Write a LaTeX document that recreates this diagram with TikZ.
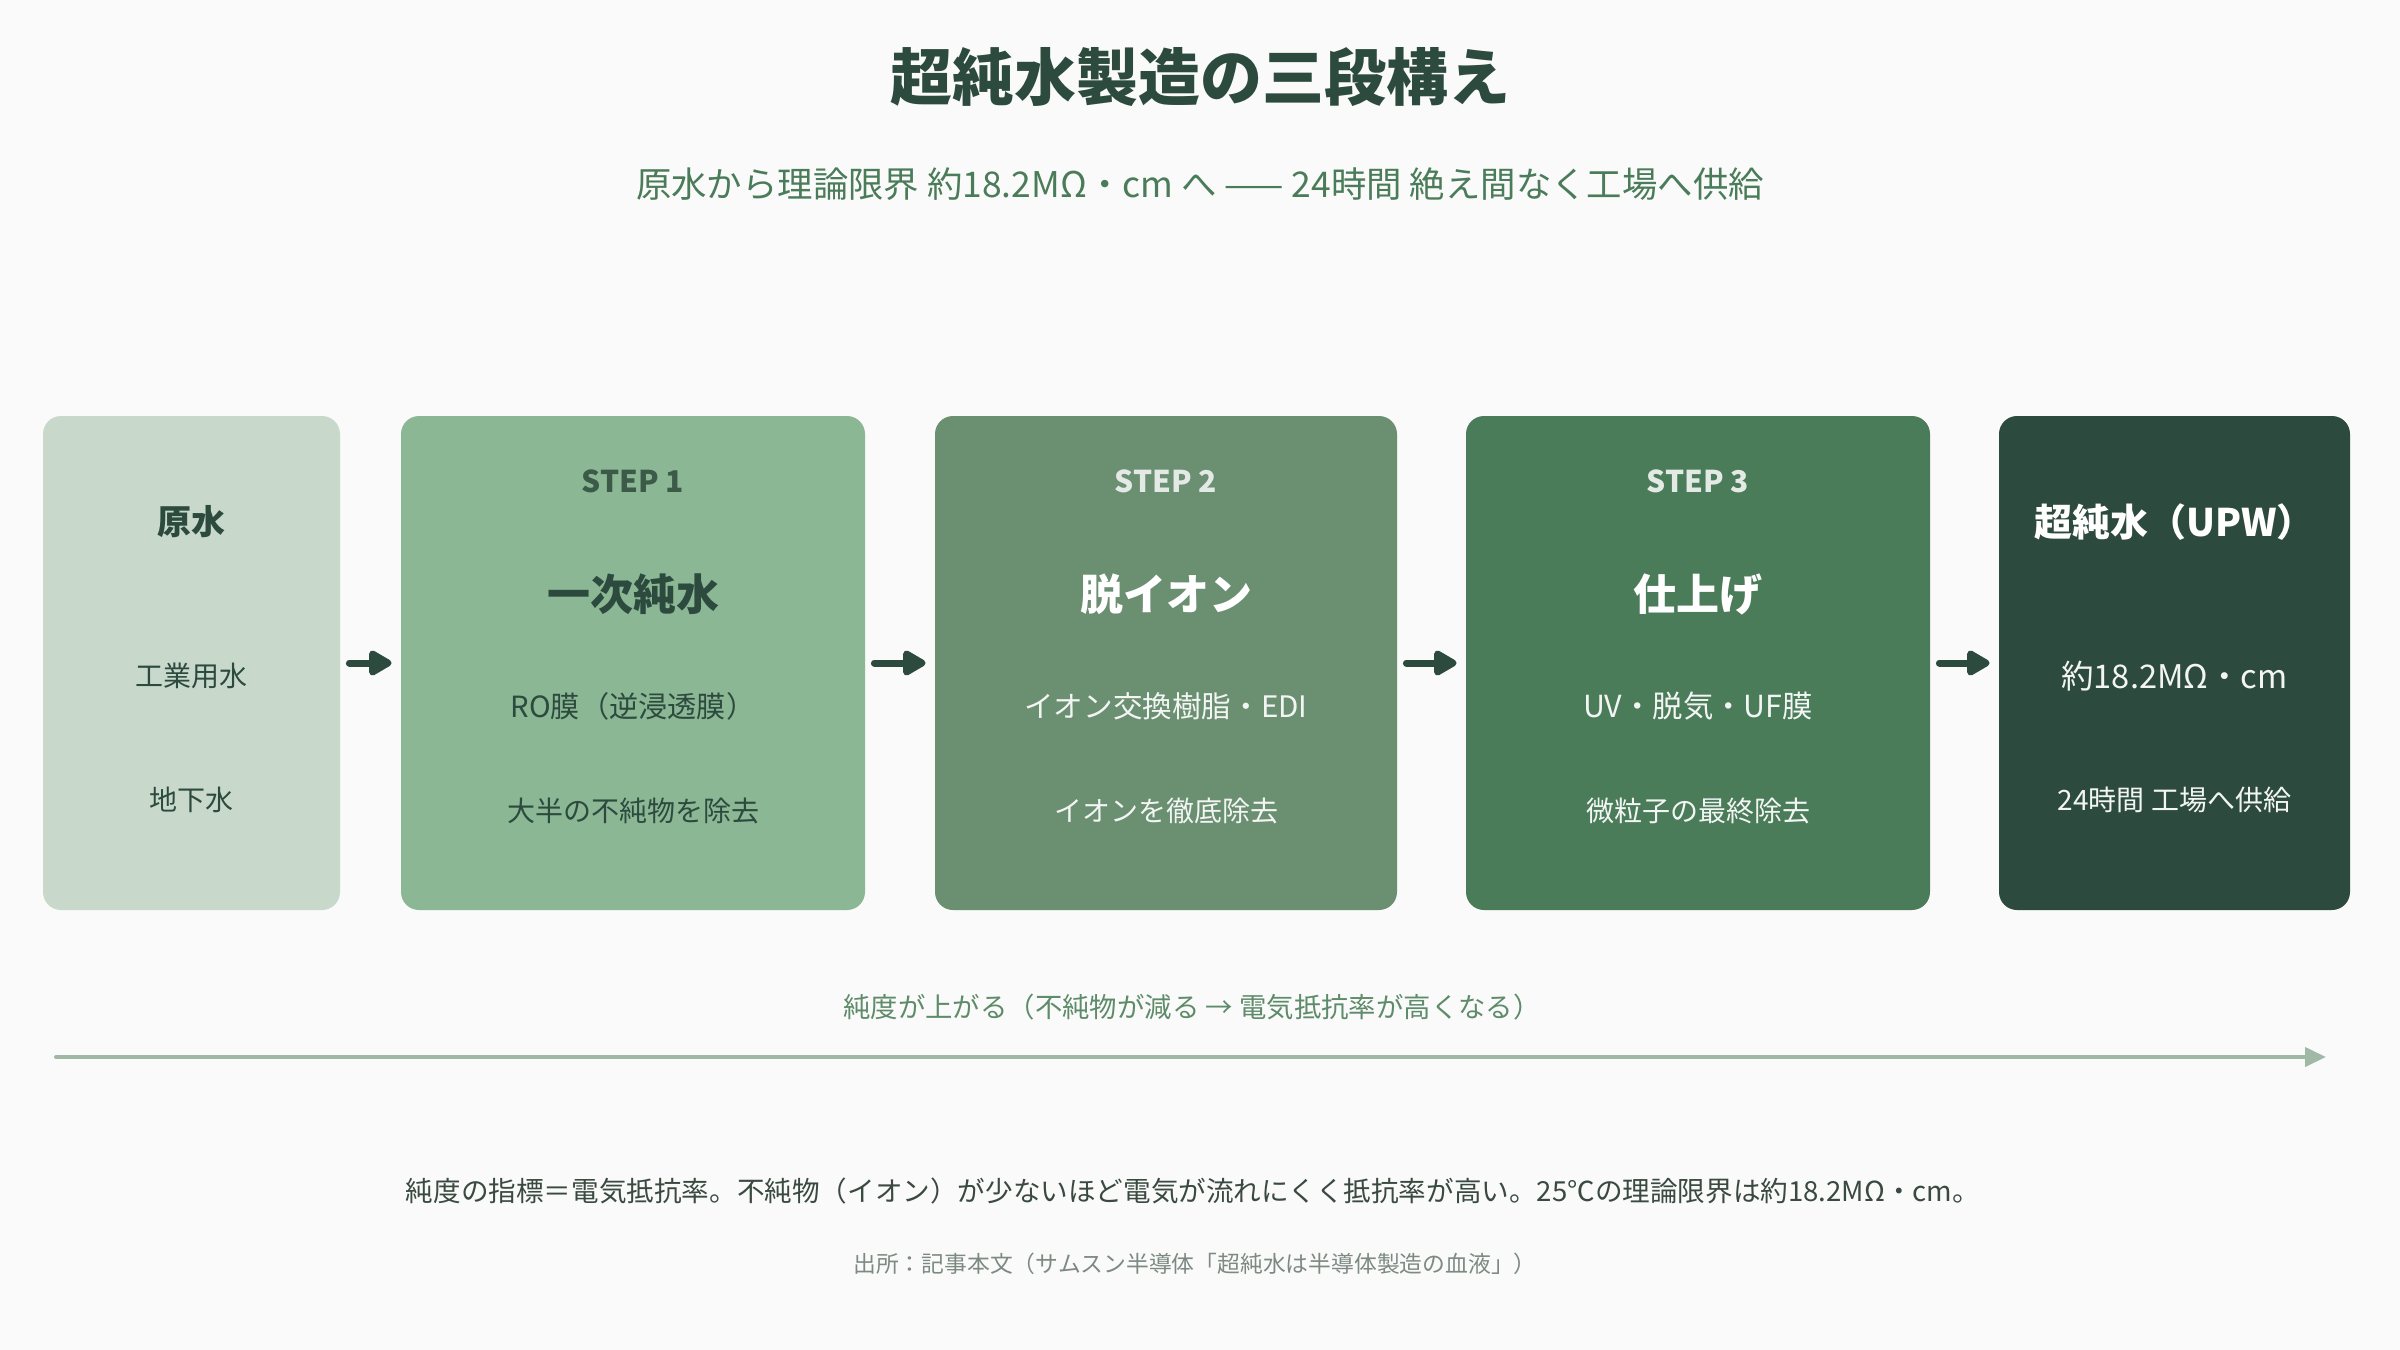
\documentclass[tikz,border=0pt]{standalone}
\usepackage{fontspec}
\setmainfont{Noto Sans CJK JP}
\usetikzlibrary{arrows.meta}
\definecolor{bgc}{HTML}{FAFAFA}
\definecolor{titlec}{HTML}{2D4A3E}
\definecolor{subc}{HTML}{4A7C59}
\definecolor{cA}{HTML}{C8D9CC}
\definecolor{cB}{HTML}{8BB795}
\definecolor{cC}{HTML}{6B8F71}
\definecolor{cD}{HTML}{4A7C59}
\definecolor{cE}{HTML}{2D4A3E}
\definecolor{stepdark}{HTML}{3B5A48}
\definecolor{steplight}{HTML}{E3EAE5}
\definecolor{bodylight}{HTML}{F2F5F3}
\definecolor{axisc}{HTML}{9FB9A6}
\definecolor{axistext}{HTML}{5E8C6A}
\definecolor{notec}{HTML}{3A4A40}
\definecolor{srcc}{HTML}{7D8A82}
\newcommand{\fs}[1]{\fontsize{#1}{#1}\selectfont}
\tikzset{
  box/.style={rounded corners=9pt, draw=none, minimum height=247pt, inner sep=0pt},
  txt/.style={inner sep=0pt, anchor=center},
  flow/.style={draw=cE, line width=3.5pt, line cap=round, -{Triangle[length=13pt,width=14pt,round]}},
  axis/.style={draw=axisc, line width=2pt, line cap=round, -{Triangle[length=10.5pt,width=9.5pt]}}
}
\begin{document}
\begin{tikzpicture}[x=0.5pt,y=-0.5pt]
\fill[bgc] (0,0) rectangle (2400,1350);
\useasboundingbox (0,0) rectangle (2400,1350);

\node[txt, text=titlec] (title) at (1200,77) {\fs{31}\bfseries 超純水製造の三段構え};
\node[txt, text=subc] (sub) at (1200,184) {\fs{17.7}原水から理論限界 約18.2MΩ・cm へ —— 24時間 絶え間なく工場へ供給};

\node[box, fill=cA, minimum width=148.5pt] (b0) at (191.5,663) {};
\node[box, fill=cB, minimum width=232pt] (b1) at (633,663) {};
\node[box, fill=cC, minimum width=231pt] (b2) at (1166,663) {};
\node[box, fill=cD, minimum width=232pt] (b3) at (1698,663) {};
\node[box, fill=cE, minimum width=175.5pt] (b4) at (2174.5,663) {};

% box 0
\node[txt, text=titlec] (h0) at (191.5,522) {\fs{17}\bfseries 原水};
\node[txt, text=titlec] (l0a) at (191.5,676) {\fs{14}工業用水};
\node[txt, text=titlec] (l0b) at (191.5,800) {\fs{14}地下水};

% box 1
\node[txt, text=stepdark] (s1) at (633,481) {\fs{15}\bfseries STEP 1};
\node[txt, text=titlec] (h1) at (633,594) {\fs{21.5}\bfseries 一次純水};
\node[txt, text=titlec] (l1a) at (633,706) {\fs{14.6}RO膜（逆浸透膜）};
\node[txt, text=titlec] (l1b) at (633,811) {\fs{14}大半の不純物を除去};

% box 2
\node[txt, text=steplight] (s2) at (1166,481) {\fs{15}\bfseries STEP 2};
\node[txt, text=white] (h2) at (1166,594) {\fs{21.5}\bfseries 脱イオン};
\node[txt, text=bodylight] (l2a) at (1166,706) {\fs{14.8}イオン交換樹脂・EDI};
\node[txt, text=bodylight] (l2b) at (1166,811) {\fs{14}イオンを徹底除去};

% box 3
\node[txt, text=steplight] (s3) at (1698,481) {\fs{15}\bfseries STEP 3};
\node[txt, text=white] (h3) at (1698,594) {\fs{21.5}\bfseries 仕上げ};
\node[txt, text=bodylight] (l3a) at (1698,706) {\fs{15.2}UV・脱気・UF膜};
\node[txt, text=bodylight] (l3b) at (1698,811) {\fs{14}微粒子の最終除去};

% box 4
\node[txt, text=white] (h4) at (2174.5,522) {\fs{19}\bfseries 超純水（UPW）};
\node[txt, text=bodylight] (l4a) at (2174.5,676) {\fs{16.3}約18.2MΩ・cm};
\node[txt, text=bodylight] (l4b) at (2174.5,800) {\fs{14}24時間 工場へ供給};

% flow arrows
\draw[flow] ([xshift=4.5pt]b0.east) -- ([xshift=-4.5pt]b1.west);
\draw[flow] ([xshift=4.5pt]b1.east) -- ([xshift=-4.5pt]b2.west);
\draw[flow] ([xshift=4.5pt]b2.east) -- ([xshift=-4.5pt]b3.west);
\draw[flow] ([xshift=4.5pt]b3.east) -- ([xshift=-4.5pt]b4.west);

% purity axis
\node[txt, text=axistext] (axl) at (1192,1007) {\fs{13.7}純度が上がる（不純物が減る → 電気抵抗率が高くなる）};
\coordinate (ax0) at (56,1057);
\coordinate (ax1) at (2326,1057);
\draw[axis] (ax0) -- (ax1);

\node[txt, text=notec] (note) at (1193,1191) {\fs{13.8}純度の指標＝電気抵抗率。不純物（イオン）が少ないほど電気が流れにくく抵抗率が高い。25℃の理論限界は約18.2MΩ・cm。};
\node[txt, text=srcc] (src) at (1195,1264) {\fs{11.4}出所：記事本文（サムスン半導体「超純水は半導体製造の血液」）};
\end{tikzpicture}
\end{document}
